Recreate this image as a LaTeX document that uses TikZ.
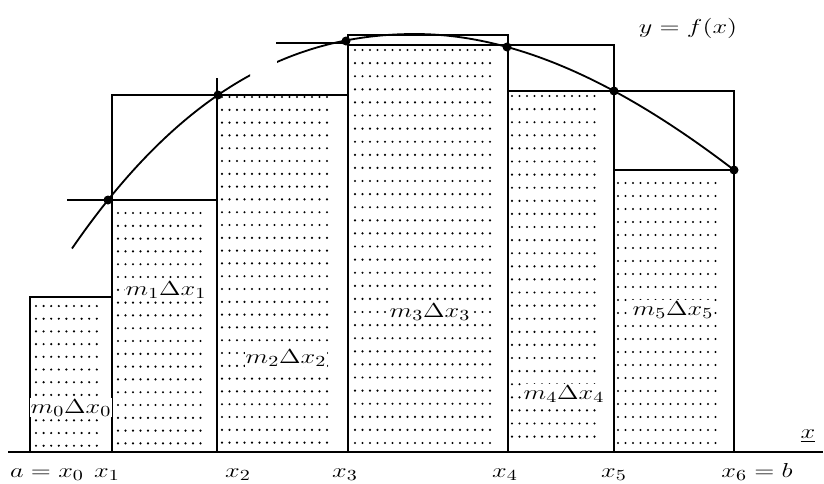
\documentclass[tikz,border=0pt]{standalone}
\usepackage{amsmath,amssymb}
\usepackage{graphicx}
\usepackage{tikz}

\newcommand\wide[1]{\scalebox{1.3}[1]{#1}}
\newcommand\dotgrid[2]{\foreach \xx in {#1}{\foreach \yy in {#2}{\fill (\xx,\yy) circle[radius=0.85pt];}}}

\begin{document}
\begin{tikzpicture}[
    x=0.025cm, y=-0.025cm,
    line width=1.3pt,
    lbl/.style={font=\fontsize{15}{18}\selectfont, inner sep=0.5pt, fill=white, anchor=base},
    tick/.style={font=\fontsize{15}{18}\selectfont, inner sep=0pt, anchor=base},
]
    \useasboundingbox (0,0) rectangle (824,483);

    \dotgrid{36,43.6,...,99}{306,318.7,...,448}
    \dotgrid{118,125.5,...,202}{213,225.8,...,448}
    \dotgrid{222,229.5,...,329}{97,109.8,...,448}
    \dotgrid{355,362.5,...,491}{50,63.1,...,448}
    \dotgrid{512,519.5,...,598}{96,109.1,...,448}
    \dotgrid{618,625.5,...,716}{183,196,...,448}

    \draw (30,452) rectangle (112,297);
    \draw (112,452) rectangle (217,200);
    \draw (217,452) rectangle (348,95);
    \draw (348,452) rectangle (508,45);
    \draw (508,452) rectangle (614,91);
    \draw (614,452) rectangle (734,170);

    \draw (67,200) -- (112,200) -- (112,95) -- (217,95) -- (217,78);
    \draw (276,43) -- (348,43) -- (348,35) -- (508,35) -- (508,45)
          -- (614,45) -- (614,91) -- (734,91) -- (734,170);

    \coordinate (p1) at (108,200);
    \coordinate (p2) at (218,95);
    \coordinate (p3) at (346,41);
    \coordinate (p4) at (507,47);
    \coordinate (p5) at (614,91);
    \coordinate (p6) at (734,170);

    \begin{scope}
        \clip (0,0) rectangle (250,483) (277,0) rectangle (824,483);
        \draw plot[domain=72:415, samples=80]
            (\x, {34+12.324*((\x-415)/100)^2-1.7228*((\x-415)/100)^3});
        \draw plot[domain=415:734, samples=80]
            (\x, {34+16.10*((\x-415)/100)^2-0.8575*((\x-415)/100)^3});
    \end{scope}
    \foreach \i in {1,...,6}
        \fill (p\i) circle[radius=3.2pt];

    \draw (8,452) -- (823,452);

    \node[lbl] (m0) at (71,413)  {\wide{$m_0\Delta x_0$}};
    \node[lbl] (m1) at (166,295) {\wide{$m_1\Delta x_1$}};
    \node[lbl] (m2) at (286,363) {\wide{$m_2\Delta x_2$}};
    \node[lbl] (m3) at (430,317) {\wide{$m_3\Delta x_3$}};
    \node[lbl] (m4) at (564,399) {\wide{$m_4\Delta x_4$}};
    \node[lbl] (m5) at (673,315) {\wide{$m_5\Delta x_5$}};
    \node[tick] (fx) at (688,33)  {\wide{$y=f(x)$}};
    \node[tick] (xax) at (808,438) {\wide{$\underline{x}$}};

    \node[tick] (a0) at (47,477)  {\wide{$a=x_0$}};
    \node[tick] (a1) at (107,477) {\wide{$x_1$}};
    \node[tick] (a2) at (238,477) {\wide{$x_2$}};
    \node[tick] (a3) at (345,477) {\wide{$x_3$}};
    \node[tick] (a4) at (505,477) {\wide{$x_4$}};
    \node[tick] (a5) at (614,477) {\wide{$x_5$}};
    \node[tick] (a6) at (757,477) {\wide{$x_6=b$}};
\end{tikzpicture}
\end{document}
